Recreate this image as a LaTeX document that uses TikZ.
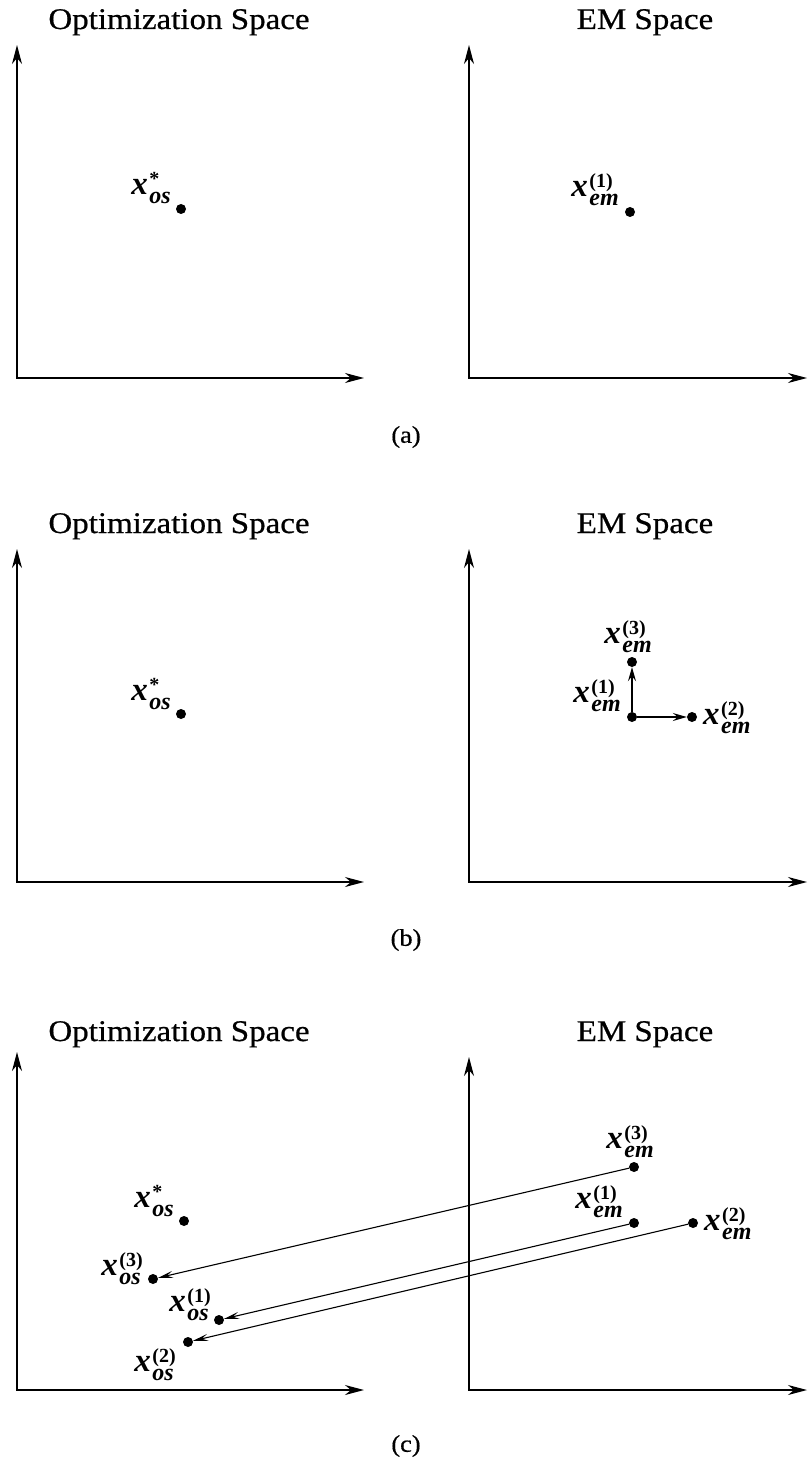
\documentclass[tikz,border=0pt]{standalone}
\usepackage{fontspec}
\setmainfont{Liberation Serif}
\newfontfamily\ttlfont[FakeStretch=1.1,FakeBold=0.6]{Liberation Serif}
\usetikzlibrary{arrows.meta}
\newcommand\xv[2]{x\kern1.5pt\makebox[0pt][l]{\raisebox{9pt}{\fontsize{20}{20}\selectfont\upshape #2}}\raisebox{-9pt}{\fontsize{24}{24}\selectfont #1}}
\tikzset{
  axis/.style={line width=1.4pt,{Stealth[length=19pt,width=10pt,inset=6pt]}-{Stealth[length=19pt,width=10pt,inset=6pt]}},
  dot/.style={circle,fill=black,inner sep=0pt,minimum size=10pt},
  lab/.style={inner sep=0pt,font=\fontsize{33}{33}\selectfont\bfseries\itshape},
  ttl/.style={inner sep=0pt,anchor=base,font=\ttlfont\fontsize{30}{30}\selectfont},
  captxt/.style={inner sep=0pt,font=\ttlfont\fontsize{24}{24}\selectfont},
  small/.style={line width=1.1pt,-{Stealth[length=14pt,width=8pt,inset=5pt]}},
  mapar/.style={line width=1.1pt,-{Stealth[length=15pt,width=7pt,inset=6pt]}}
}
\begin{document}
\begin{tikzpicture}[x=1pt,y=-1pt]
\useasboundingbox (0,0) rectangle (808,1463);
% ---------- panel (a) ----------
\begin{scope}
\node[ttl] (ta1) at (179,29) {Optimization Space};
\node[ttl] (ta2) at (645,29) {EM Space};
\coordinate (aLt) at (17,45); \coordinate (aLo) at (17,378); \coordinate (aLr) at (364,378);
\coordinate (aRt) at (469,45); \coordinate (aRo) at (469,378); \coordinate (aRr) at (807,378);
\draw[axis] (aLt) -- (aLo) -- (aLr);
\draw[axis] (aRt) -- (aRo) -- (aRr);
\node[dot] (aos) at (181,209) {};
\node[dot] (aem1) at (630,212) {};
\path (aos) ++(-10,-14) node[lab,anchor=base east] (laos) {\xv{os}{*}};
\path (aem1) ++(-11,-15) node[lab,anchor=base east] (laem1) {\xv{em}{(1)}};
\node[captxt] (capa) at (406,437) {(a)};
\end{scope}
% ---------- panel (b) ----------
\begin{scope}[shift={(0,504)}]
\node[ttl] (tb1) at (179,29) {Optimization Space};
\node[ttl] (tb2) at (645,29) {EM Space};
\coordinate (bLt) at (17,45); \coordinate (bLo) at (17,378); \coordinate (bLr) at (364,378);
\coordinate (bRt) at (469,45); \coordinate (bRo) at (469,378); \coordinate (bRr) at (807,378);
\draw[axis] (bLt) -- (bLo) -- (bLr);
\draw[axis] (bRt) -- (bRo) -- (bRr);
\node[dot] (bos) at (181,210) {};
\node[dot] (bem1) at (632,213) {};
\node[dot] (bem3) at (632,158) {};
\node[dot] (bem2) at (692,213) {};
\draw[small] (bem1) -- (bem3);
\draw[small] (bem1) -- (bem2);
\path (bos) ++(-10,-14) node[lab,anchor=base east] (lbos) {\xv{os}{*}};
\path (bem1) ++(-11,-15) node[lab,anchor=base east] (lbem1) {\xv{em}{(1)}};
\path (bem3) ++(-4,-19) node[lab,anchor=base] (lbem3) {\xv{em}{(3)}};
\path (bem2) ++(11,7) node[lab,anchor=base west] (lbem2) {\xv{em}{(2)}};
\node[captxt] (capb) at (406,436) {(b)};
\end{scope}
% ---------- panel (c) ----------
\begin{scope}[shift={(0,1012)}]
\node[ttl] (tc1) at (179,29) {Optimization Space};
\node[ttl] (tc2) at (645,29) {EM Space};
\coordinate (cLt) at (17,40); \coordinate (cLo) at (17,378); \coordinate (cLr) at (364,378);
\coordinate (cRt) at (469,45); \coordinate (cRo) at (469,378); \coordinate (cRr) at (807,378);
\draw[axis] (cLt) -- (cLo) -- (cLr);
\draw[axis] (cRt) -- (cRo) -- (cRr);
\node[dot] (cos) at (184,209) {};
\node[dot] (cos3) at (153,267) {};
\node[dot] (cos1) at (219,308) {};
\node[dot] (cos2) at (188,330) {};
\node[dot] (cem3) at (634,155) {};
\node[dot] (cem1) at (634,211) {};
\node[dot] (cem2) at (693,211) {};
\draw[mapar] (cem3) -- (cos3);
\draw[mapar] (cem1) -- (cos1);
\draw[mapar] (cem2) -- (cos2);
\path (cos) ++(-10,-14) node[lab,anchor=base east] (lcos) {\xv{os}{*}};
\path (cos3) ++(-12,-4) node[lab,anchor=base east] (lcos3) {\xv{os}{(3)}};
\path (cos1) ++(-10,-9) node[lab,anchor=base east] (lcos1) {\xv{os}{(1)}};
\path (cos2) ++(-14,29) node[lab,anchor=base east] (lcos2) {\xv{os}{(2)}};
\path (cem3) ++(-4,-19) node[lab,anchor=base] (lcem3) {\xv{em}{(3)}};
\path (cem1) ++(-11,-15) node[lab,anchor=base east] (lcem1) {\xv{em}{(1)}};
\path (cem2) ++(11,7) node[lab,anchor=base west] (lcem2) {\xv{em}{(2)}};
\node[captxt] (capc) at (406,434) {(c)};
\end{scope}
\end{tikzpicture}
\end{document}
